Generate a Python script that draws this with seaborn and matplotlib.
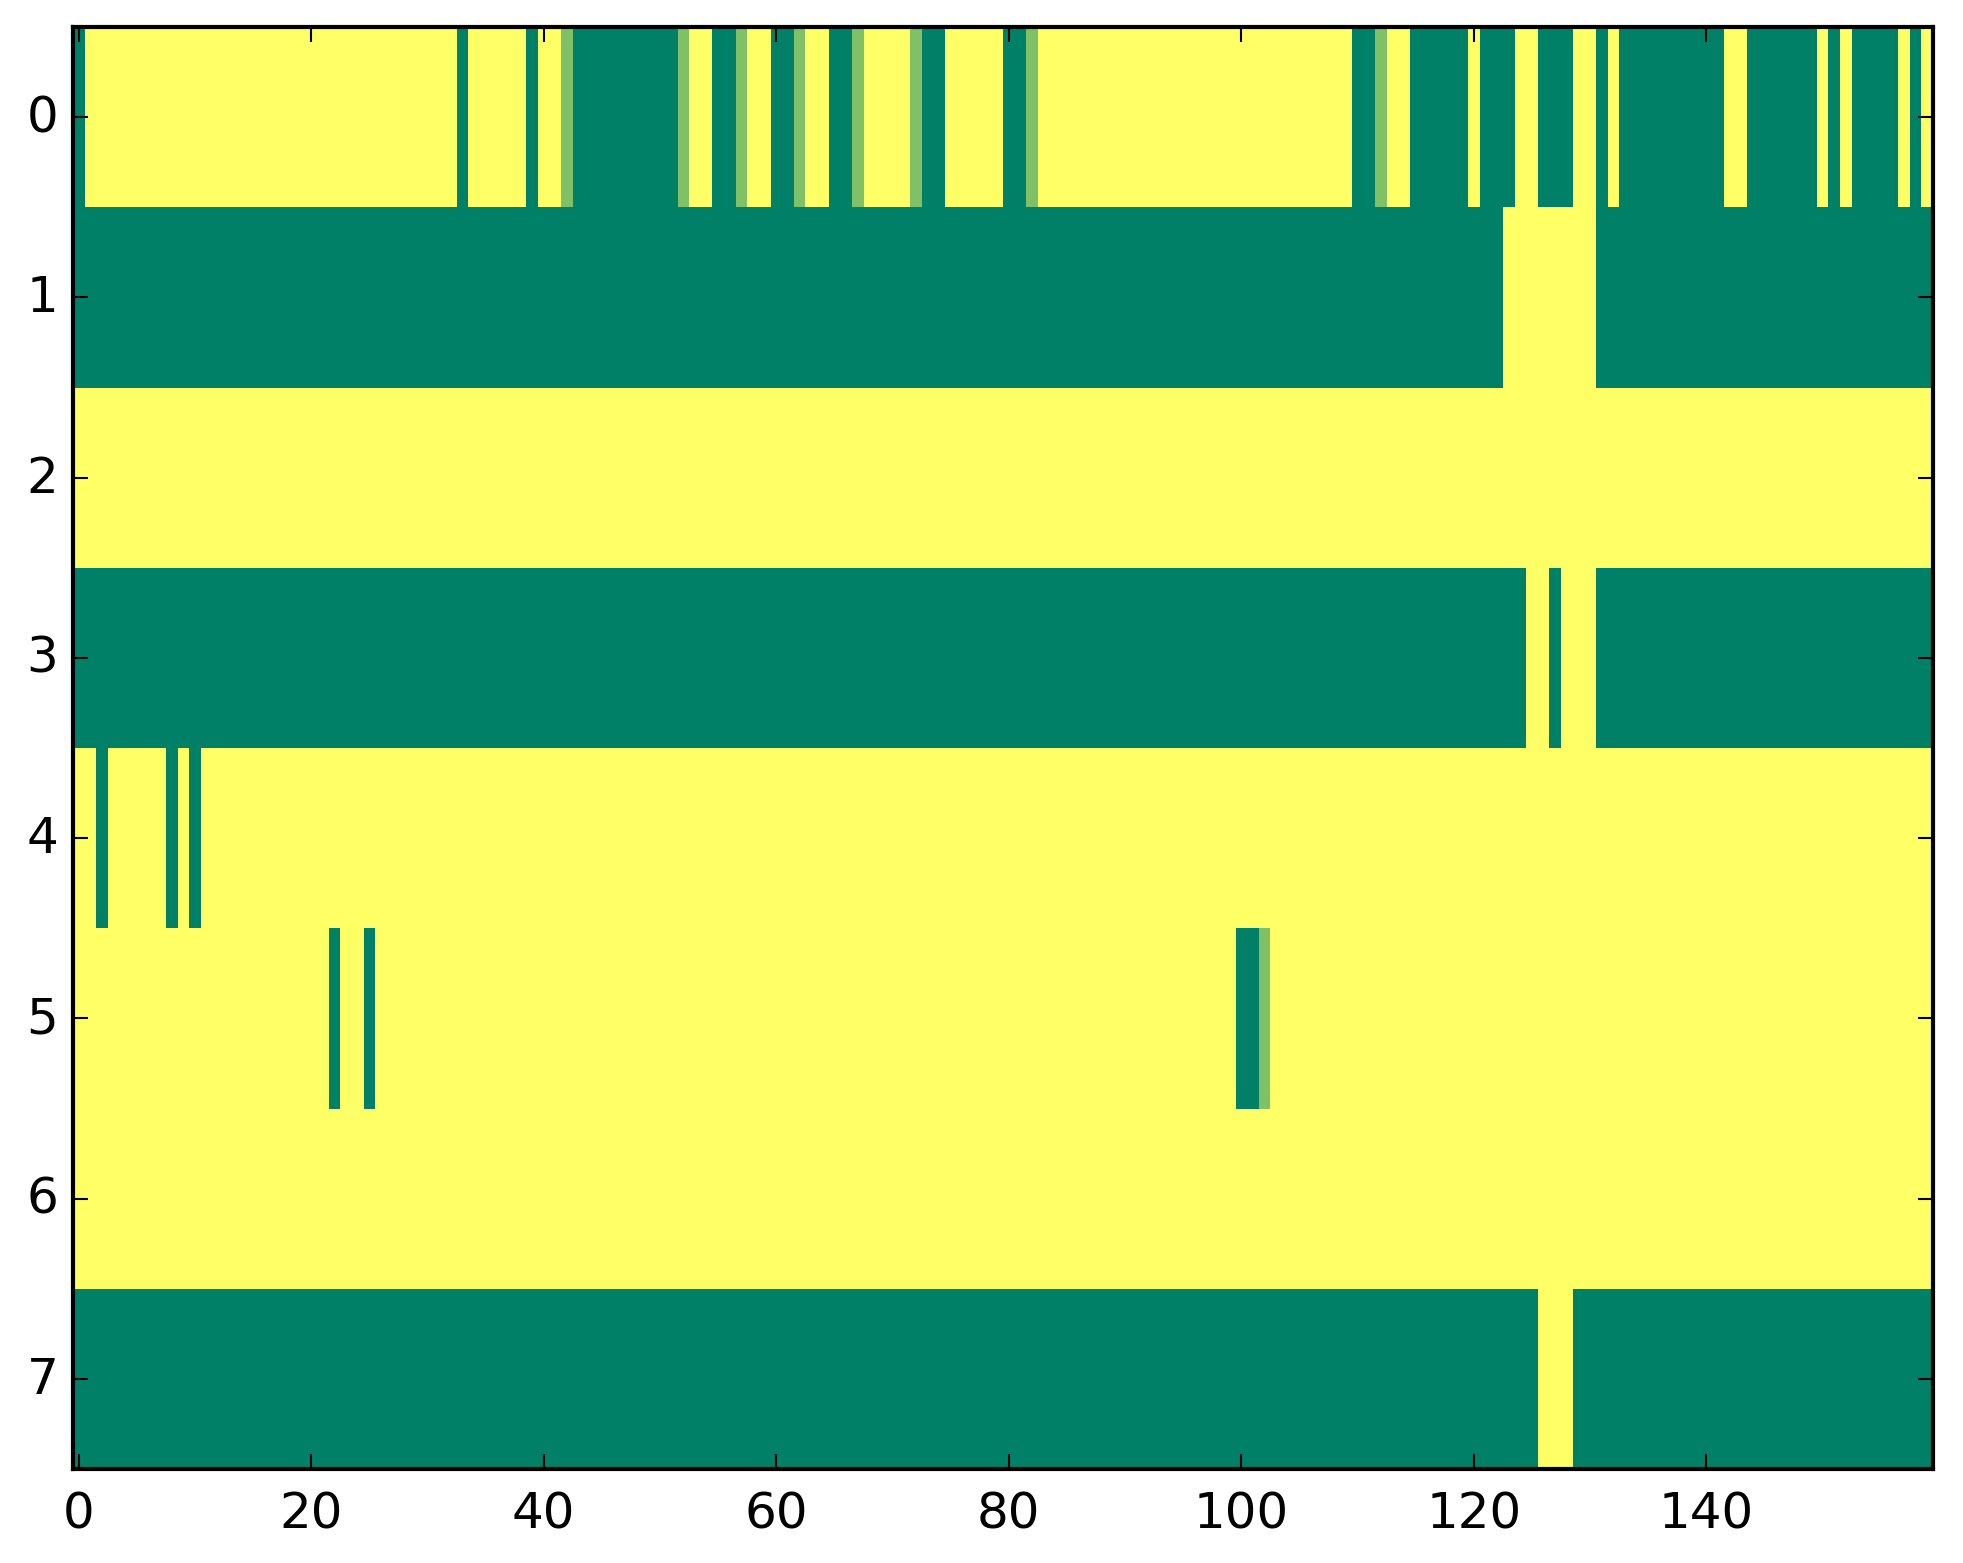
import numpy as np
import matplotlib
matplotlib.use('Agg')
import matplotlib.pyplot as plt
import seaborn as sns

plt.style.use('classic')
plt.rcParams['font.family'] = ['DejaVu Sans']

# rows of the grid as runs of (value, count); 0 = low, 0.5 = mid, 1 = high
row0 = [(0, 1), (1, 32), (0, 1), (1, 5), (0, 1), (1, 2), (0.5, 1), (0, 9), (0.5, 1),
        (1, 2), (0, 2), (0.5, 1), (1, 2), (0, 2), (0.5, 1), (1, 2), (0, 2), (0.5, 1),
        (1, 4), (0.5, 1), (0, 2), (1, 5), (0, 2), (0.5, 1), (1, 27), (0, 2), (0.5, 1),
        (1, 2), (0, 5), (1, 1), (0, 3), (1, 2), (0, 3), (1, 2), (0, 1), (1, 1), (0, 9),
        (1, 2), (0, 6), (1, 1), (0, 1), (1, 1), (0, 4), (1, 1), (0, 1), (1, 1)]
row1 = [(0, 123), (1, 8), (0, 29)]
row2 = [(1, 160)]
row3 = [(0, 125), (1, 2), (0, 1), (1, 3), (0, 29)]
row4 = [(1, 2), (0, 1), (1, 5), (0, 1), (1, 1), (0, 1), (1, 149)]
row5 = [(1, 22), (0, 1), (1, 2), (0, 1), (1, 74), (0, 2), (0.5, 1), (1, 57)]
row6 = [(1, 160)]
row7 = [(0, 126), (1, 3), (0, 31)]
rows = [row0, row1, row2, row3, row4, row5, row6, row7]

x_ticks = [0, 20, 40, 60, 80, 100, 120, 140]
y_ticks = [0, 1, 2, 3, 4, 5, 6, 7]


def expand(runs):
    vals = []
    for v, n in runs:
        vals += [v] * n
    return vals


grid = np.array([expand(r) for r in rows], dtype=float)

W, H, DPI = 1963, 1564, 300
fig = plt.figure(figsize=(W / DPI, H / DPI), dpi=DPI, facecolor='white')
ax = fig.add_axes([73 / W, 1 - 1470 / H, (1933 - 73) / W, (1470 - 28) / H])

sns.heatmap(grid, cmap='summer', vmin=0, vmax=1, cbar=False, ax=ax)

ax.set_xticks([t + 0.5 for t in x_ticks])
ax.set_xticklabels([str(t) for t in x_ticks])
ax.set_yticks([t + 0.5 for t in y_ticks])
ax.set_yticklabels([str(t) for t in y_ticks])
ax.tick_params(axis='both', which='major', direction='in', length=3.7, width=0.5,
               top=True, right=True, labelsize=12, labelrotation=0)
ax.tick_params(axis='x', pad=5)
ax.tick_params(axis='y', pad=3.5)
for s in ax.spines.values():
    s.set_visible(True)
    s.set_linewidth(1.0)
    s.set_color('black')

fig.savefig('out.png', dpi=DPI, facecolor='white')
